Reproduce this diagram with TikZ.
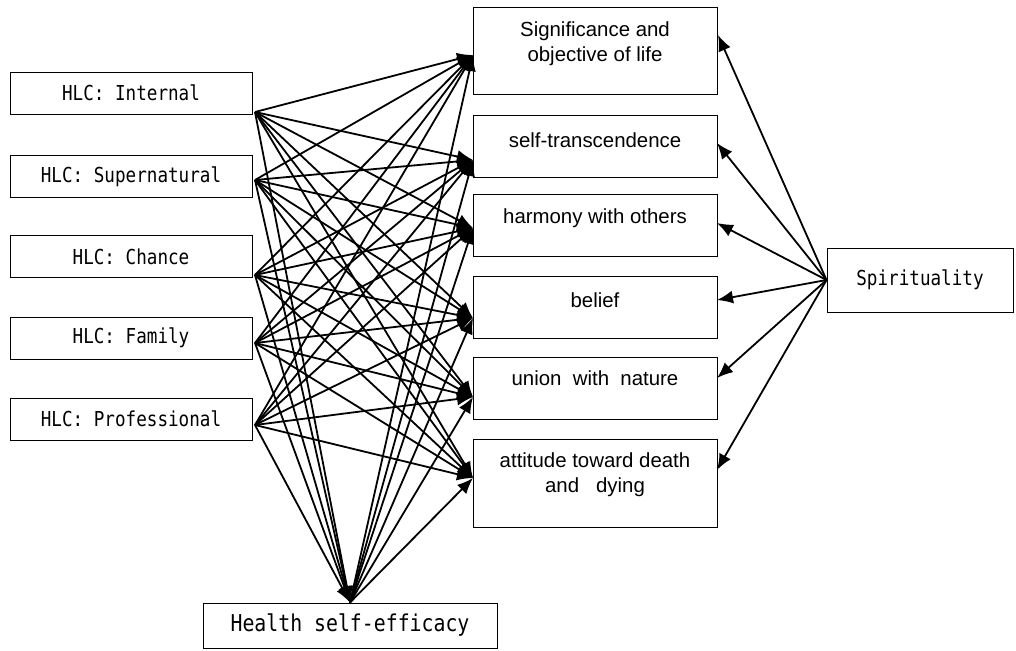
\documentclass[tikz,border=0pt]{standalone}
\usepackage{fontspec}
\setmainfont{Liberation Sans}
\newfontfamily\gothic[FakeStretch=0.855]{DejaVu Sans Mono}
\usetikzlibrary{arrows.meta}

\begin{document}
\begin{tikzpicture}[x=0.5pt,y=-0.5pt,
  hlc/.style={draw,line width=0.5pt,minimum width=121pt,minimum height=21pt,inner sep=0pt,font=\gothic\fontsize{10.3}{12}\selectfont},
  fac/.style={draw,line width=0.5pt,minimum width=122pt,inner sep=0pt},
  factxt/.style={align=center,inner sep=0pt,font=\fontsize{10.2}{12.5}\selectfont},
  arr/.style={line width=0.9pt,-{Latex[length=8pt,width=6.5pt]}}]
  \useasboundingbox (0,0) rectangle (1016,650);
  \node[hlc] (hi) at (131,93) {HLC: Internal};
  \node[hlc] (hs) at (131,176.5) {HLC: Supernatural};
  \node[hlc] (hc) at (131,256.5) {HLC: Chance};
  \node[hlc] (hf) at (131,338) {HLC: Family};
  \node[hlc] (hp) at (131,419) {HLC: Professional};
  \node[fac,minimum height=43.5pt] (sig) at (595,50.5) {};
  \node[factxt] (sig-t) at (595,44) {Significance and\\objective of life};
  \node[fac,minimum height=31pt] (tra) at (595,146) {};
  \node[factxt] (tra-t) at (595,140) {self-transcendence};
  \node[fac,minimum height=31pt] (har) at (595,225) {};
  \node[factxt] (har-t) at (595,218) {harmony with others};
  \node[fac,minimum height=31pt] (bel) at (595,307) {};
  \node[factxt] (bel-t) at (595,300) {belief};
  \node[fac,minimum height=31pt] (uni) at (595,388) {};
  \node[factxt] (uni-t) at (595,378) {union~ with~ nature};
  \node[fac,minimum height=44pt] (att) at (595,483) {};
  \node[factxt] (att-t) at (595,475) {attitude toward death\\and~~ dying};
  \node[hlc,minimum width=93pt,minimum height=32pt] (spi) at (920,280) {Spirituality};
  \node[hlc,minimum width=147pt,minimum height=22.5pt,font=\gothic\fontsize{11.6}{14}\selectfont] (hse) at (350,625.5) {Health self-efficacy};
  \coordinate (hi-o) at (255,112);
  \coordinate (hs-o) at (255,180);
  \coordinate (hc-o) at (255,275);
  \coordinate (hf-o) at (255,343);
  \coordinate (hp-o) at (255,425);
  \coordinate (sig-l) at (473,55);
  \coordinate (tra-l) at (473,160);
  \coordinate (har-l) at (473,228);
  \coordinate (bel-l) at (473,318);
  \coordinate (uni-l) at (473,397);
  \coordinate (att-l) at (473,478);
  \coordinate (sig-r) at (718,35);
  \coordinate (tra-r) at (717,143);
  \coordinate (har-r) at (717,223);
  \coordinate (bel-r) at (717,300);
  \coordinate (uni-r) at (717,378);
  \coordinate (att-r) at (717,470);
  \foreach \s in {hi,hs,hc,hf,hp} {
    \foreach \t in {sig,tra,har,bel,uni,att}
      \draw[arr] (\s-o) -- (\t-l);
    \draw[arr] (\s-o) -- (hse.north);
  }
  \foreach \t in {sig,tra,har,bel,uni,att} {
    \draw[arr] (hse.north) -- (\t-l);
    \draw[arr] (spi.west) -- (\t-r);
  }
\end{tikzpicture}
\end{document}
